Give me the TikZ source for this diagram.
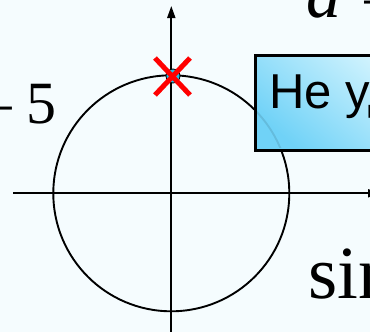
\documentclass[tikz,border=0pt]{standalone}
\usepackage{fontspec}
\setmainfont{Liberation Serif}
\newfontfamily\boxfont{Liberation Sans}
\usetikzlibrary{arrows.meta,shapes.misc}
\definecolor{bg}{HTML}{F5FCFE}
\definecolor{boxdark}{HTML}{70D2F7}
\definecolor{boxlight}{HTML}{E2F9FF}
\definecolor{dotcyan}{HTML}{22BDE6}
\begin{document}
\begin{tikzpicture}[x=1pt,y=-1pt,
  axisline/.style={line width=1.9pt,-{Triangle[width=8pt,length=12pt]}},
  serif/.style={inner sep=0pt,anchor=base west,text=black},
  msgbox/.style={draw=black,line width=2.6pt,top color=boxlight,bottom color=boxdark,shading angle=-40,inner sep=0pt,anchor=north west,minimum width=190pt,minimum height=95pt}]
\fill[bg] (0,0) rectangle (370,332);
\useasboundingbox (0,0) rectangle (370,332);
\clip (0,0) rectangle (370,332);
% axes and circle
\coordinate (O) at (171.3,193.3);
\coordinate (xl) at (13,193.3);
\coordinate (xr) at (380,193.3);
\coordinate (yb) at (171.3,340);
\coordinate (yt) at (171.3,6);
\draw[axisline] (xl) -- (xr);
\draw[axisline] (yb) -- (yt);
\draw[line width=1.9pt] (O) circle[radius=118];
% point and cross
\node[circle,fill=dotcyan,draw=black,line width=0.8pt,minimum size=14pt,inner sep=0pt] (dot) at (173,76) {};
\node[cross out,draw=red,line width=5pt,minimum width=30pt,minimum height=32pt,inner sep=0pt] (cross) at (172.5,76.5) {};
% message box
\node[msgbox] (msg) at (254.3,54.3) {};
\begin{scope}
\clip (255.6,55.6) rectangle (380,147.7);
\draw[black,opacity=0.1,line width=1.9pt] (O) circle[radius=118];
\end{scope}
\node[inner sep=0pt,anchor=base west,font=\boxfont\fontsize{49}{49}\selectfont] (msgtext) at (269,108) {Не уд};
% texts
\node[serif,anchor=base east,font=\fontsize{60}{60}\selectfont] (minus) at (16,128) {−};
\node[serif,font=\fontsize{60}{60}\selectfont] (five) at (26,123) {5};
\node[serif,font=\fontsize{75}{75}\selectfont] (sin) at (308.5,298) {sin};
\node[serif,font=\itshape\fontsize{70}{70}\selectfont] (a) at (306,17) {a};
\node[serif,font=\fontsize{60}{60}\selectfont] (minustop) at (361,22) {−};
\end{tikzpicture}
\end{document}
